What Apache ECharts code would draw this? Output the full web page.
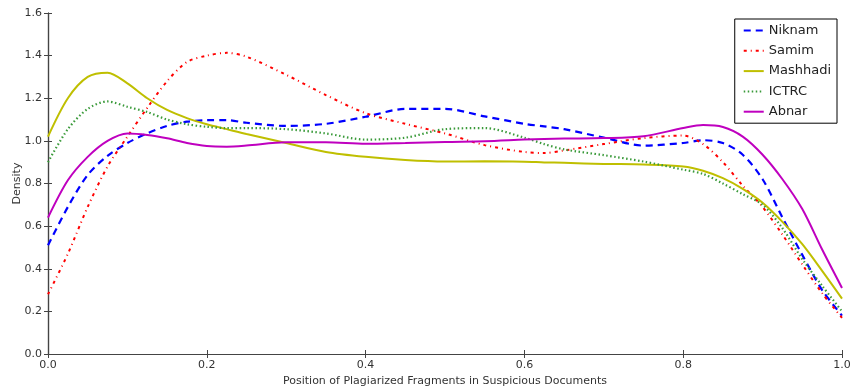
<!DOCTYPE html>
<html>
<head>
<meta charset="utf-8">
<script src="https://cdn.jsdelivr.net/npm/echarts@6/dist/echarts.min.js"></script>
<style>html,body{margin:0;padding:0;background:#fff;}#c{width:850px;height:392px;}</style>
</head>
<body>
<div id="c"></div>
<script>
var positions = [0, 0.025, 0.05, 0.075, 0.1, 0.125, 0.15, 0.175, 0.2, 0.225, 0.25, 0.3, 0.35, 0.4, 0.45, 0.5, 0.55, 0.6, 0.625, 0.65, 0.7, 0.75, 0.8, 0.825, 0.85, 0.875, 0.9, 0.925, 0.95, 0.975, 1.0];
var niknam   = [0.51, 0.69, 0.84, 0.93, 0.99, 1.035, 1.07, 1.09, 1.097, 1.097, 1.085, 1.07, 1.08, 1.113, 1.15, 1.15, 1.115, 1.08, 1.068, 1.055, 1.015, 0.978, 0.99, 1.003, 0.99, 0.935, 0.82, 0.64, 0.465, 0.30, 0.18];
var samim    = [0.28, 0.47, 0.69, 0.88, 1.02, 1.155, 1.28, 1.37, 1.40, 1.413, 1.395, 1.31, 1.215, 1.13, 1.08, 1.035, 0.98, 0.948, 0.943, 0.955, 0.985, 1.013, 1.025, 0.985, 0.90, 0.79, 0.69, 0.56, 0.42, 0.285, 0.17];
var mashhadi = [1.02, 1.20, 1.30, 1.32, 1.27, 1.20, 1.145, 1.107, 1.078, 1.055, 1.032, 0.99, 0.948, 0.925, 0.91, 0.903, 0.904, 0.902, 0.899, 0.897, 0.892, 0.889, 0.88, 0.86, 0.825, 0.775, 0.71, 0.62, 0.515, 0.39, 0.26];
var ictrc    = [0.90, 1.055, 1.15, 1.185, 1.16, 1.135, 1.10, 1.078, 1.066, 1.06, 1.06, 1.055, 1.035, 1.006, 1.015, 1.055, 1.06, 1.015, 0.985, 0.96, 0.933, 0.903, 0.865, 0.845, 0.80, 0.75, 0.70, 0.59, 0.445, 0.32, 0.20];
var abnar    = [0.64, 0.815, 0.925, 1.00, 1.035, 1.028, 1.012, 0.99, 0.976, 0.973, 0.978, 0.993, 0.993, 0.986, 0.99, 0.995, 0.998, 1.006, 1.009, 1.011, 1.013, 1.022, 1.06, 1.074, 1.065, 1.02, 0.935, 0.82, 0.68, 0.49, 0.31];
var seriesNames = ['Niknam', 'Samim', 'Mashhadi', 'ICTRC', 'Abnar'];
var xTitle = 'Position of Plagiarized Fragments in Suspicious Documents';
var yTitle = 'Density';

function pairs(ys) { return positions.map(function (x, i) { return [x, ys[i]]; }); }
var font = 'DejaVu Sans';
var axisCol = '#444';
var chart = echarts.init(document.getElementById('c'), null, {renderer: 'canvas'});
function mkSeries(name, ys, color, type, width) {
  return {
    name: name, type: 'line', data: pairs(ys), smooth: 0.3, symbol: 'none', showSymbol: false,
    xAxisIndex: 0, yAxisIndex: 0,
    lineStyle: {color: color, width: width, type: type, cap: 'butt'},
    itemStyle: {color: color}
  };
}
var fmt = function (v) { return v.toFixed(1); };
chart.setOption({
  animation: false,
  backgroundColor: '#fff',
  grid: {left: 48, right: 8, top: 13, bottom: 38, containLabel: false, outerBoundsMode: 'none'},
  legend: {
    orient: 'vertical', right: 13, top: 19,
    data: seriesNames,
    backgroundColor: '#fff', borderColor: '#000', borderWidth: 1, borderRadius: 0,
    padding: [5, 6, 5, 8], itemGap: 7.3, itemWidth: 20, itemHeight: 12, itemTextGap: 11,
    itemStyle: {opacity: 0},
    textStyle: {fontFamily: font, fontSize: 13, color: '#222'}
  },
  xAxis: [{
    type: 'value', min: 0, max: 1, interval: 0.2, position: 'bottom',
    name: xTitle, nameLocation: 'middle', nameGap: 22, nameMoveOverlap: false,
    nameTextStyle: {fontFamily: font, fontSize: 11, color: '#333'},
    axisLine: {show: true, lineStyle: {color: axisCol, width: 1.2}},
    axisTick: {show: true, inside: true, length: 4, lineStyle: {color: axisCol}},
    axisLabel: {formatter: fmt, fontFamily: font, fontSize: 11, color: '#333', margin: 6},
    splitLine: {show: false}
  }, {
    type: 'value', min: 0, max: 1, interval: 0.2, position: 'top',
    axisLine: {show: true, lineStyle: {color: axisCol, width: 1.2}},
    axisTick: {show: true, inside: true, length: 4, lineStyle: {color: axisCol}},
    axisLabel: {show: false}, splitLine: {show: false}
  }],
  yAxis: [{
    type: 'value', min: 0, max: 1.6, interval: 0.2, position: 'left',
    name: yTitle, nameLocation: 'middle', nameGap: 25, nameRotate: 90, nameMoveOverlap: false,
    nameTextStyle: {fontFamily: font, fontSize: 11, color: '#333'},
    axisLine: {show: true, lineStyle: {color: axisCol, width: 1.2}},
    axisTick: {show: true, inside: true, length: 4, lineStyle: {color: axisCol}},
    axisLabel: {formatter: fmt, fontFamily: font, fontSize: 11, color: '#333', margin: 6},
    splitLine: {show: false}
  }, {
    type: 'value', min: 0, max: 1.6, interval: 0.2, position: 'right',
    axisLine: {show: true, lineStyle: {color: axisCol, width: 1.2}},
    axisTick: {show: true, inside: true, length: 4, lineStyle: {color: axisCol}},
    axisLabel: {show: false}, splitLine: {show: false}
  }],
  series: [
    mkSeries(seriesNames[0], niknam, '#0000ff', [7, 5], 2.2),
    mkSeries(seriesNames[1], samim, '#ff0000', [3, 4, 1, 4], 2),
    mkSeries(seriesNames[2], mashhadi, '#bfbf00', 'solid', 2),
    mkSeries(seriesNames[3], ictrc, '#3a9a3a', [1.5, 2.5], 2.2),
    mkSeries(seriesNames[4], abnar, '#bf00bf', 'solid', 2)
  ]
});
</script>
</body>
</html>
